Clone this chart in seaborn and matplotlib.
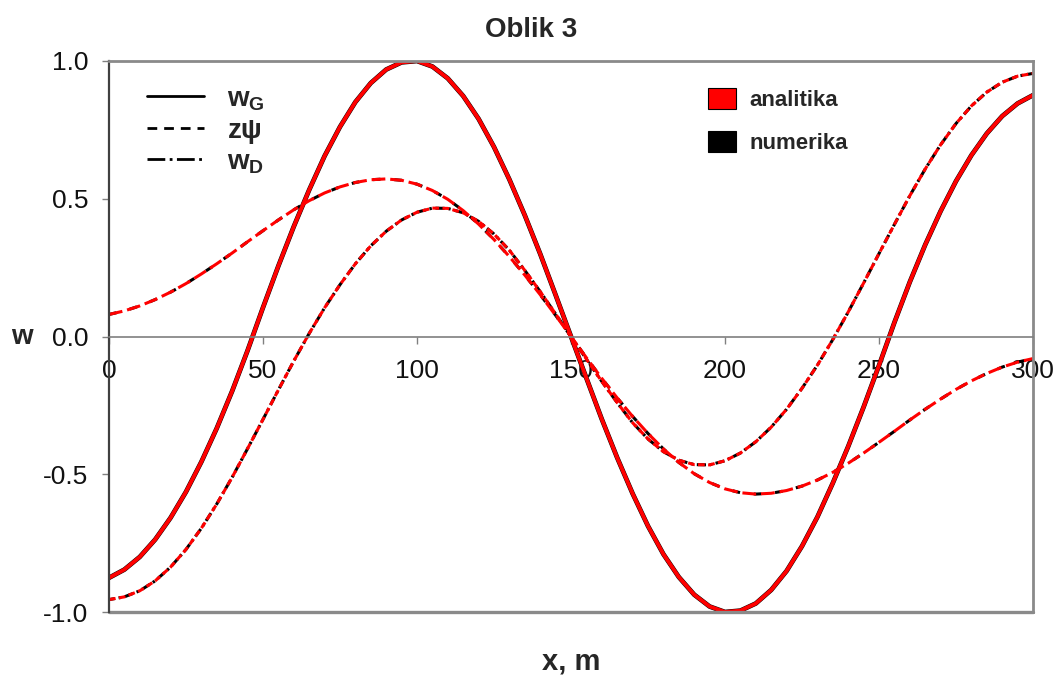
import matplotlib
matplotlib.use('Agg')
import pandas as pd
import matplotlib.pyplot as plt
import seaborn as sns
from matplotlib.lines import Line2D
from matplotlib.patches import Patch

# x koordinata (m) i tri krivulje ocitane sa slike
x_m = list(range(0, 305, 5))
w_G = [-0.876, -0.846, -0.800, -0.737, -0.658, -0.564, -0.455, -0.333, -0.198, -0.051,
       0.105, 0.256, 0.399, 0.532, 0.655, 0.761, 0.851, 0.920, 0.969, 0.995,
       1.0, 0.98, 0.937, 0.873, 0.79, 0.688, 0.57, 0.44, 0.30, 0.151,
       0.0, -0.151, -0.30, -0.44, -0.57, -0.688, -0.79, -0.873, -0.937, -0.98,
       -1.0, -0.995, -0.969, -0.920, -0.851, -0.761, -0.655, -0.532, -0.399, -0.256,
       -0.105, 0.051, 0.198, 0.333, 0.455, 0.564, 0.658, 0.737, 0.800, 0.846,
       0.876]
z_psi = [0.08, 0.093, 0.111, 0.134, 0.161, 0.192, 0.227, 0.264, 0.303, 0.344,
         0.384, 0.423, 0.460, 0.493, 0.521, 0.543, 0.559, 0.569, 0.572, 0.567,
         0.553, 0.530, 0.498, 0.457, 0.408, 0.352, 0.290, 0.223, 0.152, 0.077,
         0.0, -0.077, -0.152, -0.223, -0.290, -0.352, -0.408, -0.457, -0.498, -0.530,
         -0.553, -0.567, -0.572, -0.569, -0.559, -0.543, -0.521, -0.493, -0.460, -0.423,
         -0.384, -0.344, -0.303, -0.264, -0.227, -0.192, -0.161, -0.134, -0.111, -0.093,
         -0.08]
w_D = [-0.955, -0.945, -0.923, -0.887, -0.837, -0.773, -0.696, -0.608, -0.511, -0.407,
       -0.301, -0.194, -0.089, 0.011, 0.104, 0.188, 0.264, 0.329, 0.382, 0.423,
       0.451, 0.466, 0.465, 0.449, 0.418, 0.372, 0.313, 0.240, 0.163, 0.082,
       0.0, -0.082, -0.163, -0.240, -0.313, -0.372, -0.418, -0.449, -0.465, -0.466,
       -0.451, -0.423, -0.382, -0.329, -0.264, -0.188, -0.104, -0.011, 0.089, 0.194,
       0.301, 0.407, 0.511, 0.608, 0.696, 0.773, 0.837, 0.887, 0.923, 0.945,
       0.955]

curve_names = ['w_G', 'z_psi', 'w_D']
curve_labels = [r'w$_\mathbf{G}$', 'zψ', r'w$_\mathbf{D}$']
method_labels = ['analitika', 'numerika']
method_colors = ['#ff0000', '#000000']
x_ticks = [0, 50, 100, 150, 200, 250, 300]
y_ticks = [-1.0, -0.5, 0.0, 0.5, 1.0]

df = pd.DataFrame({'x': x_m, 'w_G': w_G, 'z_psi': z_psi, 'w_D': w_D})

sns.set_style('white')
plt.rcParams['font.family'] = ['Liberation Sans', 'DejaVu Sans']
plt.rcParams['mathtext.fontset'] = 'custom'
plt.rcParams['mathtext.rm'] = 'Liberation Sans'
plt.rcParams['mathtext.bf'] = 'Liberation Sans:bold'
plt.rcParams['axes.unicode_minus'] = False

# numerika (crno) ispod, analitika (crveno) preko
black_styles = {'w_G': '-', 'z_psi': (0, (2.5, 4.5)), 'w_D': (1, (3, 1.2, 0.8, 1.2))}
red_styles = {'w_G': '-', 'z_psi': (0, (4.5, 1.6)), 'w_D': (0, (2.2, 1.1))}

fig, ax = plt.subplots(figsize=(10.63, 6.77), dpi=100)
fig.subplots_adjust(left=0.1025, right=0.9718, top=0.9099, bottom=0.096)

for name in curve_names:
    sns.lineplot(data=df, x='x', y=name, ax=ax, color='black',
                 linestyle=black_styles[name], solid_joinstyle='round',
                 linewidth=3.4 if name == 'w_G' else 2.2, legend=False)
for name in curve_names:
    sns.lineplot(data=df, x='x', y=name, ax=ax, color='#ff0000',
                 linestyle=red_styles[name], solid_joinstyle='round',
                 linewidth=2.8 if name == 'w_G' else 2.2, legend=False)

ax.set_xlim(0, 300)
ax.set_ylim(-1, 1)
ax.set_xticks(x_ticks)
ax.set_yticks(y_ticks)
ax.set_yticklabels([f'{v:.1f}' for v in y_ticks])

ax.spines['bottom'].set_position(('data', 0))
ax.spines['bottom'].set_color('#7f7f7f')
ax.spines['bottom'].set_linewidth(1.2)
ax.spines['left'].set_color('#404040')
ax.spines['left'].set_linewidth(1.6)
for s in ['top', 'right']:
    ax.spines[s].set_color('#8a8a8a')
    ax.spines[s].set_linewidth(2)
ax.axhline(-1, color='#8a8a8a', linewidth=2.4, clip_on=False)

ax.tick_params(axis='both', bottom=True, left=True, direction='out',
               length=5, width=1, color='#808080', labelsize=19,
               labelcolor='#111111')
ax.tick_params(axis='y', pad=10)
ax.tick_params(axis='x', pad=11)

ax.set_xlabel('x, m', fontsize=21, fontweight='bold')
ax.xaxis.label.set_va('center')
ax.xaxis.set_label_coords(0.5, -0.0907)
ax.set_ylabel('w', rotation=0, fontsize=20, fontweight='bold',
              va='center', ha='center')
ax.yaxis.set_label_coords(-0.094, 0.5)
fig.suptitle('Oblik 3', x=0.5, y=0.955, fontsize=20, fontweight='bold',
             va='center')

style_handles = [Line2D([], [], color='black', linewidth=2, linestyle='-'),
                 Line2D([], [], color='black', linewidth=2, linestyle=(0, (3.5, 2.5))),
                 Line2D([], [], color='black', linewidth=2, linestyle='-.')]
leg1 = ax.legend(style_handles, curve_labels, loc='upper left',
                 bbox_to_anchor=(0.014, 1.0), frameon=False,
                 prop={'size': 20, 'weight': 'bold'}, handlelength=2.05,
                 handletextpad=0.85, labelspacing=0.18)
ax.add_artist(leg1)

method_handles = [Patch(facecolor=c, edgecolor='black', linewidth=0.8)
                  for c in method_colors]
ax.legend(method_handles, method_labels, loc='upper left',
          bbox_to_anchor=(0.627, 0.988), frameon=False,
          prop={'size': 16, 'weight': 'bold'}, handlelength=1.25,
          handleheight=1.1, handletextpad=0.6, labelspacing=0.9)

plt.savefig('out.png', dpi=100)
